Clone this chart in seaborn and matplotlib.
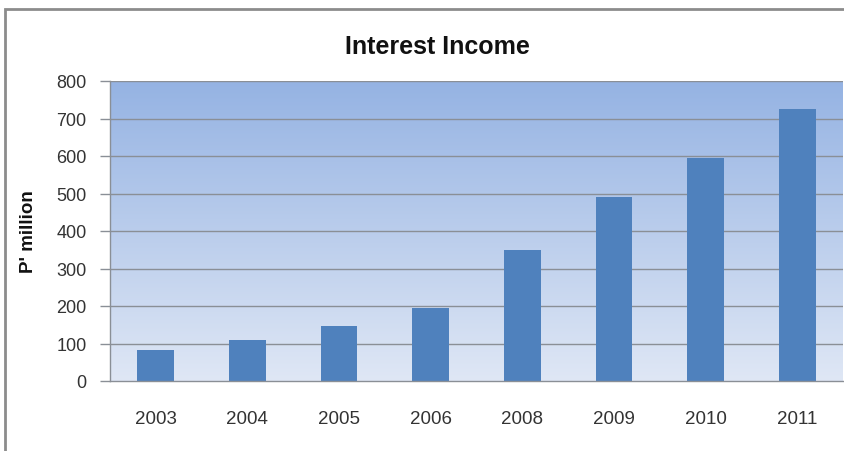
import numpy as np
import pandas as pd
import matplotlib
matplotlib.use("Agg")
import matplotlib.pyplot as plt
import seaborn as sns
from matplotlib.patches import Rectangle
from matplotlib.colors import LinearSegmentedColormap

years = ["2003", "2004", "2005", "2006", "2008", "2009", "2010", "2011"]
income = [84, 110, 146, 195, 350, 492, 594, 725]
y_ticks = [0, 100, 200, 300, 400, 500, 600, 700, 800]

title = "Interest Income"
y_label = "P' million"

sns.set_theme(style="white")
plt.rcParams['font.family'] = ['Liberation Sans', 'DejaVu Sans']

df = pd.DataFrame({"year": years, "income": income})

fig = plt.figure(figsize=(8.45, 4.52), dpi=100)
ax = fig.add_axes([110/845, 1 - 382/452, (843 - 110)/845, (382 - 82)/452])

# gradient background
cmap = LinearSegmentedColormap.from_list("bg", ["#dfe7f5", "#95b3e3"])
grad = np.linspace(0, 1, 256).reshape(-1, 1)
ax.imshow(grad, aspect="auto", cmap=cmap, origin="lower",
          extent=[-0.5, len(years) - 0.5, 0, 800], zorder=0)

for t in y_ticks[1:]:
    ax.axhline(t, color="#8a8f96", lw=1.0, zorder=1)

sns.barplot(data=df, x="year", y="income", color="#4f81bd", saturation=1,
            width=0.4, linewidth=0, edgecolor="none", ax=ax, zorder=2)

ax.set_xlim(-0.5, len(years) - 0.5)
ax.set_ylim(0, 800)
ax.set_yticks(y_ticks)
ax.set_yticklabels([str(t) for t in y_ticks], fontsize=13, color="#333333")
ax.set_xticks(range(len(years)))
ax.set_xticklabels(years, fontsize=13.5, color="#333333")
ax.tick_params(axis="y", which="both", left=True, length=7, width=1, color="#8a8f96", pad=10)
ax.tick_params(axis="x", bottom=False, pad=15)
ax.set_xlabel("")
ax.set_ylabel(y_label, fontsize=13.5, fontweight="bold", labelpad=14, color="#111111")

for s in ["top", "right"]:
    ax.spines[s].set_visible(False)
ax.spines["left"].set_color("#8a8f96")
ax.spines["left"].set_linewidth(1)
ax.spines["bottom"].set_color("#8a8f96")
ax.spines["bottom"].set_linewidth(1)

fig.text(437.5/845, 1 - 53.5/452, title, ha="center", va="baseline",
         fontsize=18, fontweight="bold", color="#111111")

# outer frame
fig.patches.append(Rectangle((5/845, -0.05), 1.0, 1 - 10/452 + 0.05, transform=fig.transFigure,
                             fill=False, edgecolor="#8c8c8c", lw=2))

fig.savefig("out.png", dpi=100)
